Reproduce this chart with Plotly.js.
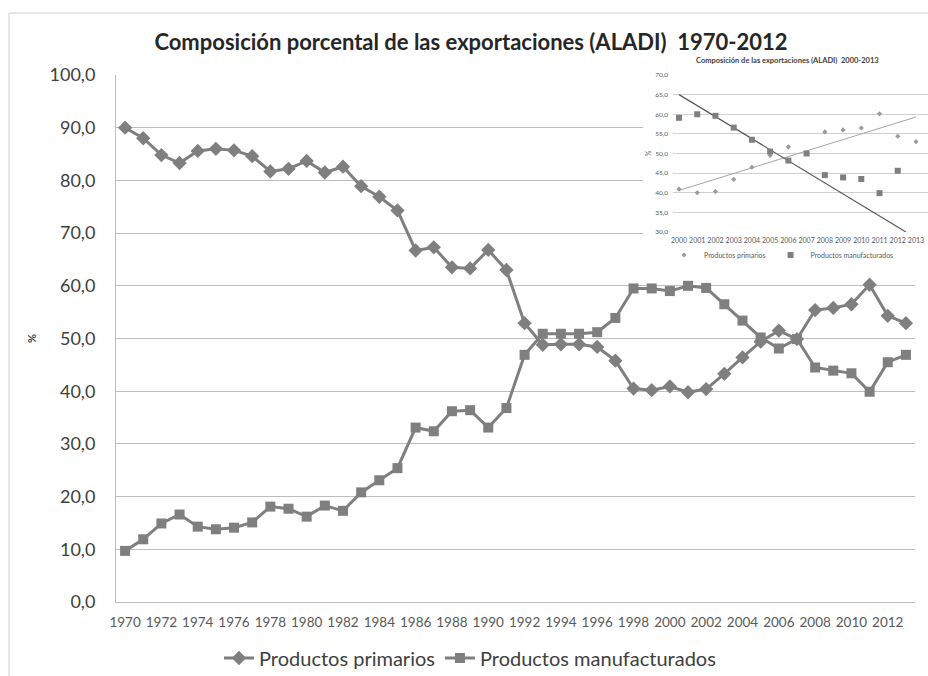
<!DOCTYPE html>
<html>
<head>
<meta charset="utf-8">
<script src="https://cdn.plot.ly/plotly-3.0.1.min.js"></script>
<style>html,body{margin:0;padding:0;background:#fff;}#chart{width:928px;height:676px;}</style>
</head>
<body>
<div id="chart"></div>
<script>
// ---- Main chart data (1970-2013) ----
const years = [1970,1971,1972,1973,1974,1975,1976,1977,1978,1979,
               1980,1981,1982,1983,1984,1985,1986,1987,1988,1989,
               1990,1991,1992,1993,1994,1995,1996,1997,1998,1999,
               2000,2001,2002,2003,2004,2005,2006,2007,2008,2009,
               2010,2011,2012,2013];
const primarios = [90.0,88.0,84.8,83.3,85.6,86.0,85.7,84.6,81.7,82.2,
                   83.7,81.5,82.6,78.9,76.9,74.3,66.7,67.3,63.5,63.3,
                   66.8,63.0,52.9,48.8,48.9,48.9,48.4,45.8,40.5,40.2,
                   40.9,39.8,40.4,43.3,46.4,49.4,51.5,49.9,55.4,55.8,
                   56.5,60.2,54.3,52.9];
const manufacturados = [9.7,11.9,14.9,16.6,14.3,13.8,14.1,15.1,18.1,17.7,
                        16.2,18.3,17.3,20.8,23.1,25.4,33.1,32.4,36.2,36.4,
                        33.1,36.8,46.9,50.9,50.9,50.9,51.2,53.9,59.5,59.5,
                        59.0,60.0,59.6,56.5,53.4,50.2,48.1,49.9,44.5,43.9,
                        43.4,39.9,45.5,46.9];
const xTickVals = [1970,1972,1974,1976,1978,1980,1982,1984,1986,1988,1990,
                   1992,1994,1996,1998,2000,2002,2004,2006,2008,2010,2012];

// ---- Inset chart data (2000-2013) ----
const insetYearsPrim = [2000,2001,2002,2003,2004,2005,2006,2007,2008,2009,2010,2011,2012,2013];
const insetPrim = [40.9,40.0,40.3,43.4,46.5,49.5,51.7,50.0,55.5,56.0,56.5,60.1,54.4,53.0];
const insetYearsManuf = [2000,2001,2002,2003,2004,2005,2006,2007,2008,2009,2010,2011,2012];
const insetManuf = [59.1,60.0,59.6,56.6,53.5,50.5,48.2,50.0,44.5,43.9,43.5,39.9,45.6];
const trendYearsPrim = [2000, 2013];
const trendPrim = [40.6, 59.3];
const trendYearsManuf = [2000, 2012.45];
const trendManuf = [65.0, 30.0];
const insetTickVals = [2000,2001,2002,2003,2004,2005,2006,2007,2008,2009,2010,2011,2012,2013];

const FONT = 'Lato, "Open Sans", sans-serif';
const GRAY = '#7f7f7f';
const GRID = '#bdbdbd';

const traces = [
  {x: years, y: primarios, name: 'Productos primarios', type: 'scatter', mode: 'lines+markers',
   line: {color: GRAY, width: 3}, marker: {symbol: 'diamond', size: 11, color: GRAY},
   legend: 'legend', xaxis: 'x', yaxis: 'y'},
  {x: years, y: manufacturados, name: 'Productos manufacturados', type: 'scatter', mode: 'lines+markers',
   line: {color: GRAY, width: 3}, marker: {symbol: 'square', size: 10, color: GRAY},
   legend: 'legend', xaxis: 'x', yaxis: 'y'},
  // inset
  {x: trendYearsPrim, y: trendPrim, type: 'scatter', mode: 'lines', showlegend: false,
   line: {color: '#a6a6a6', width: 1}, xaxis: 'x2', yaxis: 'y2', hoverinfo: 'skip'},
  {x: trendYearsManuf, y: trendManuf, type: 'scatter', mode: 'lines', showlegend: false,
   line: {color: '#595959', width: 1.2}, xaxis: 'x2', yaxis: 'y2', hoverinfo: 'skip'},
  {x: insetYearsPrim, y: insetPrim, name: 'Productos primarios', type: 'scatter', mode: 'markers',
   marker: {symbol: 'diamond', size: 4, color: '#9a9a9a'}, legend: 'legend2', xaxis: 'x2', yaxis: 'y2'},
  {x: insetYearsManuf, y: insetManuf, name: 'Productos manufacturados', type: 'scatter', mode: 'markers',
   marker: {symbol: 'square', size: 6, color: GRAY}, legend: 'legend2', xaxis: 'x2', yaxis: 'y2'}
];

const W = 928, H = 676, L = 116, T = 75, B = 74;
const PW = W - L, PH = H - T - B;
const px = v => (v - L) / PW;           // pixel x -> paper
const py = v => (H - B - v) / PH;       // pixel y -> paper

const layout = {
  width: W, height: H,
  margin: {l: L, r: 0, t: T, b: B, pad: 0, autoexpand: false},
  paper_bgcolor: '#ffffff', plot_bgcolor: 'rgba(0,0,0,0)',
  separators: ',.',
  font: {family: FONT, color: '#595959'},
  title: {text: '<b>Composición porcental de las exportaciones (ALADI)  1970-2012</b>',
          font: {family: FONT, size: 22, color: '#262626'},
          x: 471 / W, xanchor: 'center', xref: 'container',
          y: 1 - 42 / H, yanchor: 'middle', yref: 'container'},
  xaxis: {domain: [0, px(915)], type: 'linear', range: [1969.5, 2013.5],
          tickvals: xTickVals, tickformat: 'd', tickangle: 0, showgrid: false, zeroline: false,
          showline: true, linecolor: GRID, linewidth: 1, ticks: '',
          tickfont: {family: FONT, size: 13.5, color: '#595959'}, ticklabelstandoff: 8, fixedrange: true},
  yaxis: {domain: [0, 1], range: [0, 100], dtick: 10, tickformat: '.1f',
          showgrid: true, gridcolor: GRID, gridwidth: 1, zeroline: false,
          showline: true, linecolor: GRID, linewidth: 1, ticks: '',
          tickfont: {family: FONT, size: 18, color: '#404040'}, ticklabelstandoff: 16,
          title: {text: '<b>%</b>', font: {family: FONT, size: 11, color: '#404040'}, standoff: 10},
          fixedrange: true},
  xaxis2: {domain: [px(673), 1], anchor: 'y2', type: 'linear', range: [1999.67, 2013.66],
           tickvals: insetTickVals, tickformat: 'd', tickangle: 0, showgrid: false, zeroline: false,
           showline: false, ticks: '', tickfont: {family: FONT, size: 7, color: '#595959'},
           ticklabelstandoff: 3, ticklabeloverflow: 'allow', fixedrange: true},
  yaxis2: {domain: [py(232), 1], anchor: 'x2', range: [30, 70], dtick: 5, tickformat: '.1f',
           showgrid: true, gridcolor: '#d0d0d0', gridwidth: 1, zeroline: false,
           showline: false, ticks: '', tickfont: {family: FONT, size: 6.5, color: '#595959'},
           ticklabelstandoff: 4,
           title: {text: '%', font: {family: FONT, size: 7, color: '#595959'}, standoff: 2},
           fixedrange: true},
  legend: {orientation: 'h', x: px(470), xanchor: 'center', y: py(658), yanchor: 'middle',
           font: {family: FONT, size: 20, color: '#404040'}, itemwidth: 30, bgcolor: 'rgba(0,0,0,0)'},
  legend2: {orientation: 'h', x: px(664), xanchor: 'left', y: py(255), yanchor: 'middle',
            font: {family: FONT, size: 7, color: '#595959'}, itemwidth: 30, bgcolor: 'rgba(0,0,0,0)',
            tracegroupgap: 0},
  shapes: [
    {type: 'rect', xref: 'paper', yref: 'paper', x0: px(9), x1: 1.05, y0: -0.3, y1: py(13),
     line: {color: '#cfcfcf', width: 1}, fillcolor: 'rgba(0,0,0,0)', layer: 'below'},
    {type: 'rect', xref: 'x', yref: 'y', x0: 1998.52, x1: 2014, y0: 64.5, y1: 101,
     line: {width: 0}, fillcolor: '#ffffff', layer: 'between'}
  ],
  annotations: [
    {text: '<b>Composición de las exportaciones (ALADI)  2000-2013</b>', xref: 'paper', yref: 'paper',
     x: px(787), y: py(61), xanchor: 'center', yanchor: 'middle', showarrow: false,
     font: {family: FONT, size: 7.5, color: '#404040'}}
  ],
  showlegend: true,
  hovermode: false
};

Plotly.newPlot('chart', traces, layout, {displayModeBar: false, staticPlot: true});
</script>
</body>
</html>
